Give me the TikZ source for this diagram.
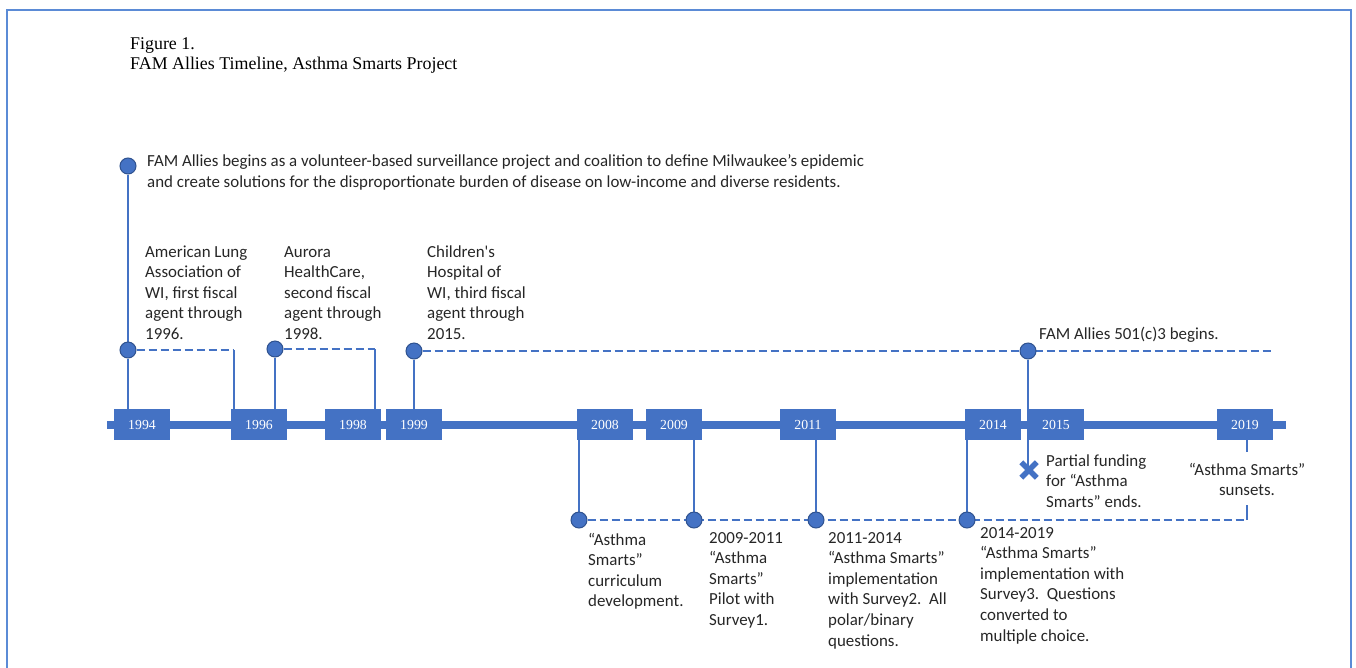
\documentclass[tikz,border=0pt]{standalone}
\usepackage{fontspec}
\setmainfont{Carlito}
\newfontfamily\tnr{Liberation Serif}
\usetikzlibrary{backgrounds,shapes.misc}
\definecolor{ob}{RGB}{68,114,196}
\definecolor{obd}{RGB}{47,82,143}
\definecolor{frm}{RGB}{91,139,214}
\begin{document}
\begin{tikzpicture}[x=1pt,y=-1pt,
  yearbox/.style={fill=ob, minimum width=56pt, minimum height=31pt, inner sep=0pt, text=white, font=\tnr\fontsize{13.8}{16}\selectfont},
  dot/.style={circle, fill=ob, draw=obd, line width=1pt, minimum size=16pt, inner sep=0pt},
  stem/.style={draw=ob, line width=2.8pt},
  dashline/.style={draw=ob, line width=2.8pt, dash pattern=on 8pt off 4pt},
  lbl/.style={font=\fontsize{16.9}{20.6}\selectfont, align=left, inner sep=0pt, anchor=base west, text=black!85},
  clbl/.style={font=\fontsize{16.9}{20.6}\selectfont, align=center, inner sep=0pt, anchor=base, text=black!85}
]
\useasboundingbox (0,0) rectangle (1356,667);
\draw[frm, line width=2pt] (7,680) -- (7,10) -- (1351,10) -- (1351,680);

% (base anchors of multi-line nodes sit on the last line's baseline)
\node[font=\tnr\fontsize{17.9}{20}\selectfont, anchor=base west, align=left, inner sep=0pt] (title) at (130,69) {Figure 1.\\FAM Allies Timeline, Asthma Smarts Project};

% timeline
\coordinate (tlL) at (107,425);
\coordinate (tlR) at (1286,425);
\draw[ob, line width=8pt] (tlL) -- (tlR);

% year boxes
\node[yearbox] (y1994) at (142,424.5) {1994};
\node[yearbox] (y1996) at (259,424.5) {1996};
\node[yearbox] (y1998) at (353,424.5) {1998};
\node[yearbox] (y1999) at (414,424.5) {1999};
\node[yearbox] (y2008) at (605,424.5) {2008};
\node[yearbox] (y2009) at (674,424.5) {2009};
\node[yearbox] (y2011) at (808,424.5) {2011};
\node[yearbox] (y2014) at (993,424.5) {2014};
\node[yearbox] (y2015) at (1056,424.5) {2015};
\node[yearbox] (y2019) at (1245,424.5) {2019};

% dots
\node[dot] (c0) at (128,166) {};
\node[dot] (c1) at (128,350) {};
\node[dot] (c2) at (275,349) {};
\node[dot] (c3) at (414,351) {};
\node[dot] (c4) at (1028,351) {};
\node[dot] (d1) at (579,520) {};
\node[dot] (d2) at (694,520) {};
\node[dot] (d3) at (816,520) {};
\node[dot] (d4) at (967,520) {};
\node[cross out, draw=ob, line width=5.5pt, minimum size=10pt, inner sep=0pt] (xm) at (1029,470) {};

\coordinate (k1) at (234,350);
\coordinate (k2) at (375,349);
\coordinate (k3) at (1272,351);
\coordinate (k4) at (1247,520);
\coordinate (k5) at (1247,505);
\coordinate (k6) at (1247,452);

\begin{pgfonlayer}{background}
\draw[stem] (c0) -- (c1);
\draw[stem] (c1) -- (c1 |- y1994.north);
\draw[dashline] (c1) -- (k1);
\draw[stem, line width=2.2pt] (k1) -- (k1 |- y1996.north);
\draw[stem] (c2) -- (c2 |- y1996.north);
\draw[dashline] (c2) -- (k2);
\draw[stem, line width=2.2pt] (k2) -- (k2 |- y1998.north);
\draw[stem] (c3) -- (c3 |- y1999.north);
\draw[dashline] (c3) -- (k3);
\draw[stem] (c4) -- (c4 |- xm.center);
\draw[stem] (d1 |- y2008.south) -- (d1);
\draw[stem] (d2 |- y2009.south) -- (d2);
\draw[stem] (d3 |- y2011.south) -- (d3);
\draw[stem] (d4 |- y2014.south) -- (d4);
\draw[dashline] (d1) -- (k4);
\draw[stem] (k4) -- (k5);
\draw[stem] (k6 |- y2019.south) -- (k6);
\end{pgfonlayer}

% labels
\node[lbl] (t0) at (147,187) {FAM Allies begins as a volunteer-based surveillance project and coalition to define Milwaukee’s epidemic\\and create solutions for the disproportionate burden of disease on low-income and diverse residents.};
\node[lbl] (t1) at (145,339.4) {American Lung\\Association of\\WI, first fiscal\\agent through\\1996.};
\node[lbl] (t2) at (284,339.4) {Aurora\\HealthCare,\\second fiscal\\agent through\\1998.};
\node[lbl] (t3) at (427,339.4) {Children\textquotesingle s\\Hospital of\\WI, third fiscal\\agent through\\2015.};
\node[lbl] (t4) at (1039,339) {FAM Allies 501(c)3 begins.};
\node[lbl] (t5) at (1046,507.2) {Partial funding\\for “Asthma\\Smarts” ends.};
\node[clbl] (t6) at (1247,495.6) {“Asthma Smarts”\\sunsets.};
\node[lbl] (b1) at (588,606.8) {“Asthma\\Smarts”\\curriculum\\development.};
\node[lbl] (b2) at (709,625.4) {2009-2011\\“Asthma\\Smarts”\\Pilot with\\Survey1.};
\node[lbl] (b3) at (828,646) {2011-2014\\“Asthma Smarts”\\implementation\\with Survey2.\ \ All\\polar/binary\\questions.};
\node[lbl] (b4) at (980,641) {2014-2019\\“Asthma Smarts”\\implementation with\\Survey3.\ \ Questions\\converted to\\multiple choice.};
\end{tikzpicture}
\end{document}
